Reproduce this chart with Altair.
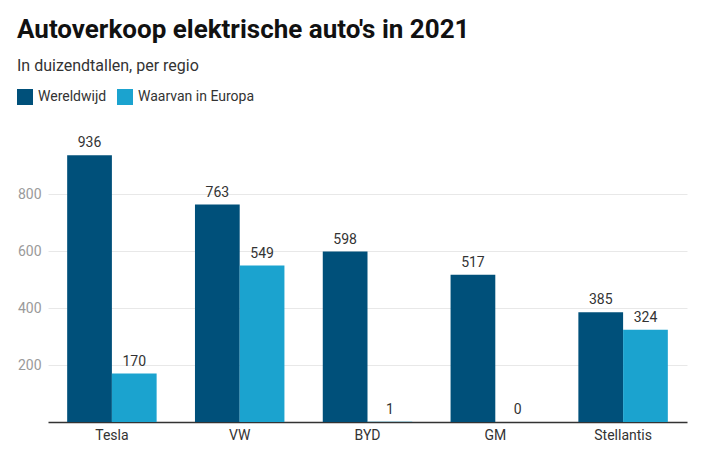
import altair as alt
import pandas as pd

brands = ["Tesla", "VW", "BYD", "GM", "Stellantis"]
world = [936, 763, 598, 517, 385]
europe = [170, 549, 1, 0, 324]
series = ["Wereldwijd", "Waarvan in Europa"]
colors = ["#00507A", "#1BA3CF"]

rows = []
for b, w, e in zip(brands, world, europe):
    rows.append({"merk": b, "reeks": series[0], "waarde": w})
    rows.append({"merk": b, "reeks": series[1], "waarde": e})
df = pd.DataFrame(rows)

FONT = "Roboto"

x = alt.X("merk:N", sort=brands, title=None,
          scale=alt.Scale(paddingInner=0.3, paddingOuter=0.15),
          axis=alt.Axis(labelAngle=0, labelFontSize=14, labelColor="#333333",
                        labelFont=FONT, ticks=False, domainColor="#333333",
                        domainWidth=1.5, labelPadding=6, grid=False))
xoff = alt.XOffset("reeks:N", sort=series)
y = alt.Y("waarde:Q", title=None,
          scale=alt.Scale(domain=[0, 1000], nice=False),
          axis=alt.Axis(values=[200, 400, 600, 800], labelFontSize=14,
                        labelColor="#9a9a9a", labelFont=FONT, ticks=False,
                        domain=False, gridColor="#e8e8e8", labelPadding=7))

bars = alt.Chart(df).mark_bar().encode(
    x=x, xOffset=xoff, y=y,
    color=alt.Color("reeks:N", sort=series, title=None,
                    scale=alt.Scale(domain=series, range=colors),
                    legend=alt.Legend(orient="none", legendX=-31, legendY=-48,
                                      direction="horizontal", symbolType="square",
                                      symbolSize=256, symbolStrokeWidth=0,
                                      labelFontSize=14, labelFont=FONT,
                                      labelColor="#333333", columnPadding=10,
                                      labelOffset=5, symbolOpacity=1)),
)

labels = alt.Chart(df).mark_text(dy=-12, fontSize=14, font=FONT, color="#333333").encode(
    x=x, xOffset=xoff, y=y, text="waarde:Q"
)

chart = (bars + labels).properties(
    width=639, height=285,
    background="white",
    autosize=alt.AutoSizeParams(type="none"),
    padding={"left": 48, "top": 137, "right": 15, "bottom": 35},
    title=alt.TitleParams(
        text="Autoverkoop elektrische auto's in 2021",
        subtitle="In duizendtallen, per regio",
        anchor="start", frame="group", dx=-31, fontSize=26, font=FONT,
        fontWeight="bold", color="#111111", subtitleFont=FONT,
        subtitleFontSize=16, subtitleColor="#333333", subtitlePadding=15,
        offset=15,
    ),
).configure_view(stroke=None, strokeWidth=0)

chart.save("out.html", embed_options={"renderer": "svg", "actions": False})
